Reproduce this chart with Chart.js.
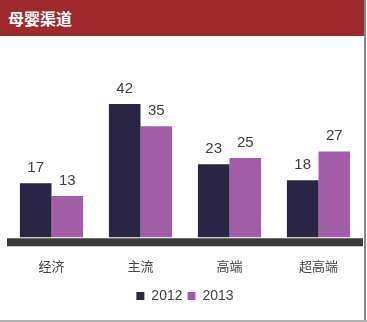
<!DOCTYPE html>
<html>
<head>
<meta charset="utf-8">
<script src="https://cdn.jsdelivr.net/npm/chart.js@4.4.0/dist/chart.umd.min.js"></script>
<style>
  html, body { margin: 0; padding: 0; background: #fff; }
  #wrap { position: relative; width: 367px; height: 322px; overflow: hidden; background: #fff; }
  #head { position: absolute; left: 0; top: 0; width: 364px; height: 36px; background: #a0292c;
          color: #fff; font: bold 16px "Noto Sans CJK SC", sans-serif; line-height: 37px; padding-left: 8px; box-sizing: border-box; }
  #edgeR { position: absolute; left: 364px; top: 0; width: 2px; height: 322px; background: #8a8a8a; }
  #edgeB { position: absolute; left: 0; top: 320px; width: 367px; height: 2px; background: #b0b0b0; }
  #box { position: absolute; left: 0; top: 37px; width: 367px; height: 285px; }
</style>
</head>
<body>
<div id="wrap">
  <div id="head">母婴渠道</div>
  <div id="box"><canvas id="Graph"></canvas></div>
  <div id="edgeR"></div>
  <div id="edgeB"></div>
</div>
<script>
  const categories = ["经济", "主流", "高端", "超高端"];
  const seriesNames = ["2012", "2013"];
  const values2012 = [17, 42, 23, 18];
  const values2013 = [13, 35, 25, 27];

  // value labels above the bars + thick dark base bar under the zero line
  const extras = {
    id: 'extras',
    beforeDatasetsDraw(chart) {
      const a = chart.chartArea, c = chart.ctx;
      const zero = chart.scales.y.getPixelForValue(0);
      c.save();
      c.fillStyle = '#3a3a3a';
      c.fillRect(a.left, zero + 1, a.right - a.left, 8);
      c.restore();
    },
    afterDatasetsDraw(chart) {
      const c = chart.ctx;
      c.save();
      c.font = '15px "Liberation Sans", Arial, sans-serif';
      c.fillStyle = '#404040';
      c.textAlign = 'center';
      c.textBaseline = 'bottom';
      chart.data.datasets.forEach((ds, i) => {
        chart.getDatasetMeta(i).data.forEach((bar, j) => {
          c.fillText(ds.data[j], bar.x, bar.y - 8);
        });
      });
      c.restore();
    }
  };

  let ctx = document.getElementById("Graph");
  let graph = new Chart(ctx, {
    type: 'bar',
    data: {
      labels: categories,
      datasets: [{
        label: seriesNames[0],
        backgroundColor: "#2b2545",
        data: values2012
      },
      {
        label: seriesNames[1],
        backgroundColor: "#a25ea8",
        data: values2013
      }]
    },
    options: {
      responsive: true,
      maintainAspectRatio: false,
      animation: false,
      categoryPercentage: 0.71,
      barPercentage: 1.0,
      layout: { padding: { left: 7, right: 4, top: 0, bottom: 9 } },
      scales: {
        x: {
          grid: { display: false, drawTicks: false },
          border: { display: false },
          ticks: {
            padding: 10,
            color: '#444',
            font: { family: '"Noto Sans CJK SC", sans-serif', size: 13 }
          }
        },
        y: { display: false, min: -3.5, max: 63.1 }
      },
      plugins: {
        tooltip: { enabled: false },
        legend: {
          position: 'bottom',
          labels: {
            boxWidth: 8,
            boxHeight: 8,
            padding: 5,
            color: '#444',
            font: { family: '"Liberation Sans", Arial, sans-serif', size: 14 }
          }
        }
      }
    },
    plugins: [extras]
  });
</script>
</body>
</html>
